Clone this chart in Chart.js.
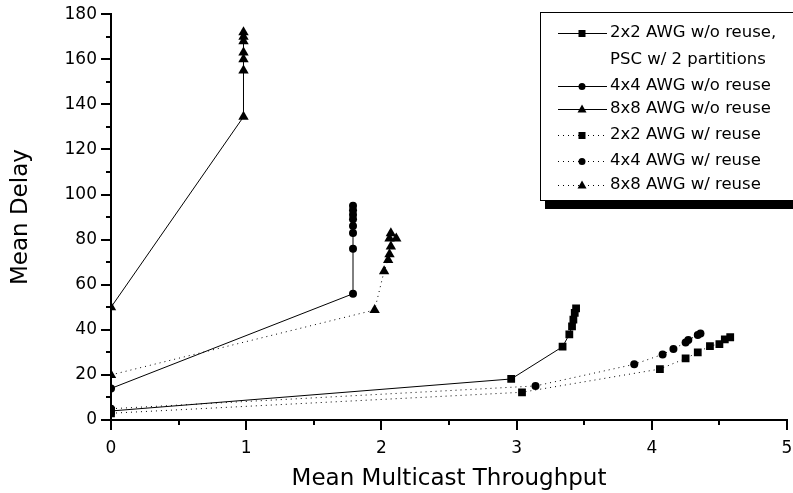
<!DOCTYPE html>
<html>
<head>
<meta charset="utf-8">
<script src="https://cdn.jsdelivr.net/npm/chart.js@4.4.1/dist/chart.umd.min.js"></script>
<style>
  body { margin: 0; background: #fff; }
  canvas { display: block; }
</style>
</head>
<body>
<canvas id="grafico" width="793" height="493"></canvas>
<script>
// Values
const labels2x2NoReuse = ['2x2 AWG w/o reuse,', 'PSC w/ 2 partitions'];
const x2x2NoReuse = [0, 2.96, 3.34, 3.39, 3.41, 3.42, 3.43, 3.44];
const y2x2NoReuse = [4, 18.2, 32.5, 38, 41.5, 44.5, 47.5, 49.5];

const x4x4NoReuse = [0, 1.79, 1.79, 1.79, 1.79, 1.79, 1.79, 1.79, 1.79];
const y4x4NoReuse = [14, 56, 76, 83, 86, 89, 91, 93, 95];

const x8x8NoReuse = [0, 0.98, 0.98, 0.98, 0.98, 0.98, 0.98, 0.98];
const y8x8NoReuse = [50, 134.5, 155, 160, 163, 168, 170, 172];

const x2x2Reuse = [0, 3.04, 4.06, 4.25, 4.34, 4.43, 4.50, 4.54, 4.58];
const y2x2Reuse = [3, 12.3, 22.6, 27.3, 30, 32.8, 33.7, 35.8, 36.7];

const x4x4Reuse = [0, 3.14, 3.87, 4.08, 4.16, 4.25, 4.27, 4.34, 4.36];
const y4x4Reuse = [5, 15.1, 24.7, 29.1, 31.5, 34.4, 35.5, 37.7, 38.4];

const x8x8Reuse = [0, 1.95, 2.02, 2.05, 2.06, 2.07, 2.06, 2.11, 2.07];
const y8x8Reuse = [20, 48.8, 66, 71, 73.5, 77, 80.5, 80.5, 82.8];

const xTickLabels = ['0', '1', '2', '3', '4', '5'];
const yTickLabels = ['0', '20', '40', '60', '80', '100', '120', '140', '160', '180'];

const FONT = 'DejaVu Sans';

function pontos(xs, ys) {
    return xs.map((x, i) => ({ x: x, y: ys[i] }));
}

function serie(label, xs, ys, style, dotted) {
    return {
        label: label,
        data: pontos(xs, ys),
        showLine: true,
        borderColor: '#000',
        backgroundColor: '#000',
        borderWidth: 1,
        borderDash: dotted ? [1, 4] : [],
        pointStyle: style,
        pointRadius: style === 'rect' ? 5.5 : (style === 'circle' ? 4 : 6),
        pointBorderWidth: 0,
        pointBackgroundColor: '#000'
    };
}

// Legend box with shadow + minor/major tick marks
const desenhoExtra = {
    id: 'desenhoExtra',
    afterDraw(chart) {
        const ctx = chart.ctx;
        const xs = chart.scales.x;
        const ys = chart.scales.y;
        ctx.save();
        ctx.strokeStyle = '#000';
        ctx.lineWidth = 2;

        // y ticks (major at multiples of 20)
        ys.ticks.forEach(t => {
            const py = Math.round(ys.getPixelForValue(t.value));
            const len = t.value % 20 === 0 ? 10 : 5;
            ctx.beginPath();
            ctx.moveTo(xs.left - len, py);
            ctx.lineTo(xs.left, py);
            ctx.stroke();
        });
        // x ticks (major at integers)
        xs.ticks.forEach(t => {
            const px = Math.round(xs.getPixelForValue(t.value));
            const len = Number.isInteger(t.value) ? 10 : 5;
            ctx.beginPath();
            ctx.moveTo(px, ys.bottom);
            ctx.lineTo(px, ys.bottom + len);
            ctx.stroke();
        });

        // legend
        const bx = 540, by = 12, bw = 270, bh = 188;
        ctx.fillStyle = '#000';
        ctx.fillRect(bx + 5, by + bh, bw, 9);
        ctx.fillStyle = '#fff';
        ctx.fillRect(bx, by, bw, bh);
        ctx.lineWidth = 1;
        ctx.strokeStyle = '#000';
        ctx.strokeRect(bx + 0.5, by + 0.5, bw, bh);

        const linhas = [33, 86, 109, 135, 161, 185];
        ctx.font = '16.5px "' + FONT + '"';
        ctx.textBaseline = 'middle';
        ctx.textAlign = 'left';
        chart.data.datasets.forEach((ds, i) => {
            const y = linhas[i] + 0.5;
            ctx.strokeStyle = '#000';
            ctx.lineWidth = 1;
            ctx.setLineDash(ds.borderDash);
            ctx.beginPath();
            ctx.moveTo(558, y);
            ctx.lineTo(607, y);
            ctx.stroke();
            ctx.setLineDash([]);
            ctx.fillStyle = '#000';
            const cx = 582;
            if (ds.pointStyle === 'rect') {
                ctx.fillRect(cx - 3.5, y - 3.5, 7, 7);
            } else if (ds.pointStyle === 'circle') {
                ctx.beginPath();
                ctx.arc(cx, y, 3.5, 0, Math.PI * 2);
                ctx.fill();
            } else {
                ctx.beginPath();
                ctx.moveTo(cx, y - 5);
                ctx.lineTo(cx + 4.5, y + 3);
                ctx.lineTo(cx - 4.5, y + 3);
                ctx.closePath();
                ctx.fill();
            }
            const textos = Array.isArray(ds.label) ? ds.label : [ds.label];
            textos.forEach((txt, k) => {
                ctx.fillText(txt, 610, linhas[i] + k * 27);
            });
        });
        ctx.restore();
    }
};

Chart.defaults.color = '#000';
Chart.defaults.font.family = FONT;

new Chart(document.getElementById('grafico'), {
    type: 'scatter',
    data: {
        datasets: [
            serie(labels2x2NoReuse, x2x2NoReuse, y2x2NoReuse, 'rect', false),
            serie('4x4 AWG w/o reuse', x4x4NoReuse, y4x4NoReuse, 'circle', false),
            serie('8x8 AWG w/o reuse', x8x8NoReuse, y8x8NoReuse, 'triangle', false),
            serie('2x2 AWG w/ reuse', x2x2Reuse, y2x2Reuse, 'rect', true),
            serie('4x4 AWG w/ reuse', x4x4Reuse, y4x4Reuse, 'circle', true),
            serie('8x8 AWG w/ reuse', x8x8Reuse, y8x8Reuse, 'triangle', true)
        ]
    },
    options: {
        responsive: false,
        animation: false,
        devicePixelRatio: 1,
        layout: { padding: { top: 14, right: 4, bottom: 0, left: 0 } },
        plugins: {
            legend: { display: false },
            tooltip: { enabled: false }
        },
        scales: {
            x: {
                type: 'linear',
                min: 0,
                max: 5,
                grid: { display: false, drawTicks: true, tickLength: 10 },
                border: { display: true, color: '#000', width: 2 },
                ticks: {
                    stepSize: 0.5,
                    autoSkip: false,
                    maxRotation: 0,
                    padding: 8,
                    font: { size: 17 },
                    callback: v => Number.isInteger(v) ? xTickLabels[v] : ''
                },
                title: {
                    display: true,
                    text: 'Mean Multicast Throughput',
                    font: { size: 23 },
                    padding: { top: 0, bottom: 0 }
                },
                afterFit(scale) {
                    scale.height = 73;
                    scale.paddingLeft = 0;
                    scale.paddingRight = 0;
                }
            },
            y: {
                type: 'linear',
                min: 0,
                max: 180,
                grid: { display: false, drawTicks: true, tickLength: 10 },
                border: { display: true, color: '#000', width: 2 },
                ticks: {
                    stepSize: 10,
                    autoSkip: false,
                    padding: 4,
                    font: { size: 17 },
                    callback: v => v % 20 === 0 ? yTickLabels[v / 20] : ''
                },
                title: {
                    display: true,
                    text: 'Mean Delay',
                    font: { size: 23 },
                    padding: { top: 7, bottom: 0 }
                },
                afterFit(scale) {
                    scale.width = 111;
                }
            }
        }
    },
    plugins: [desenhoExtra]
});
</script>
</body>
</html>
